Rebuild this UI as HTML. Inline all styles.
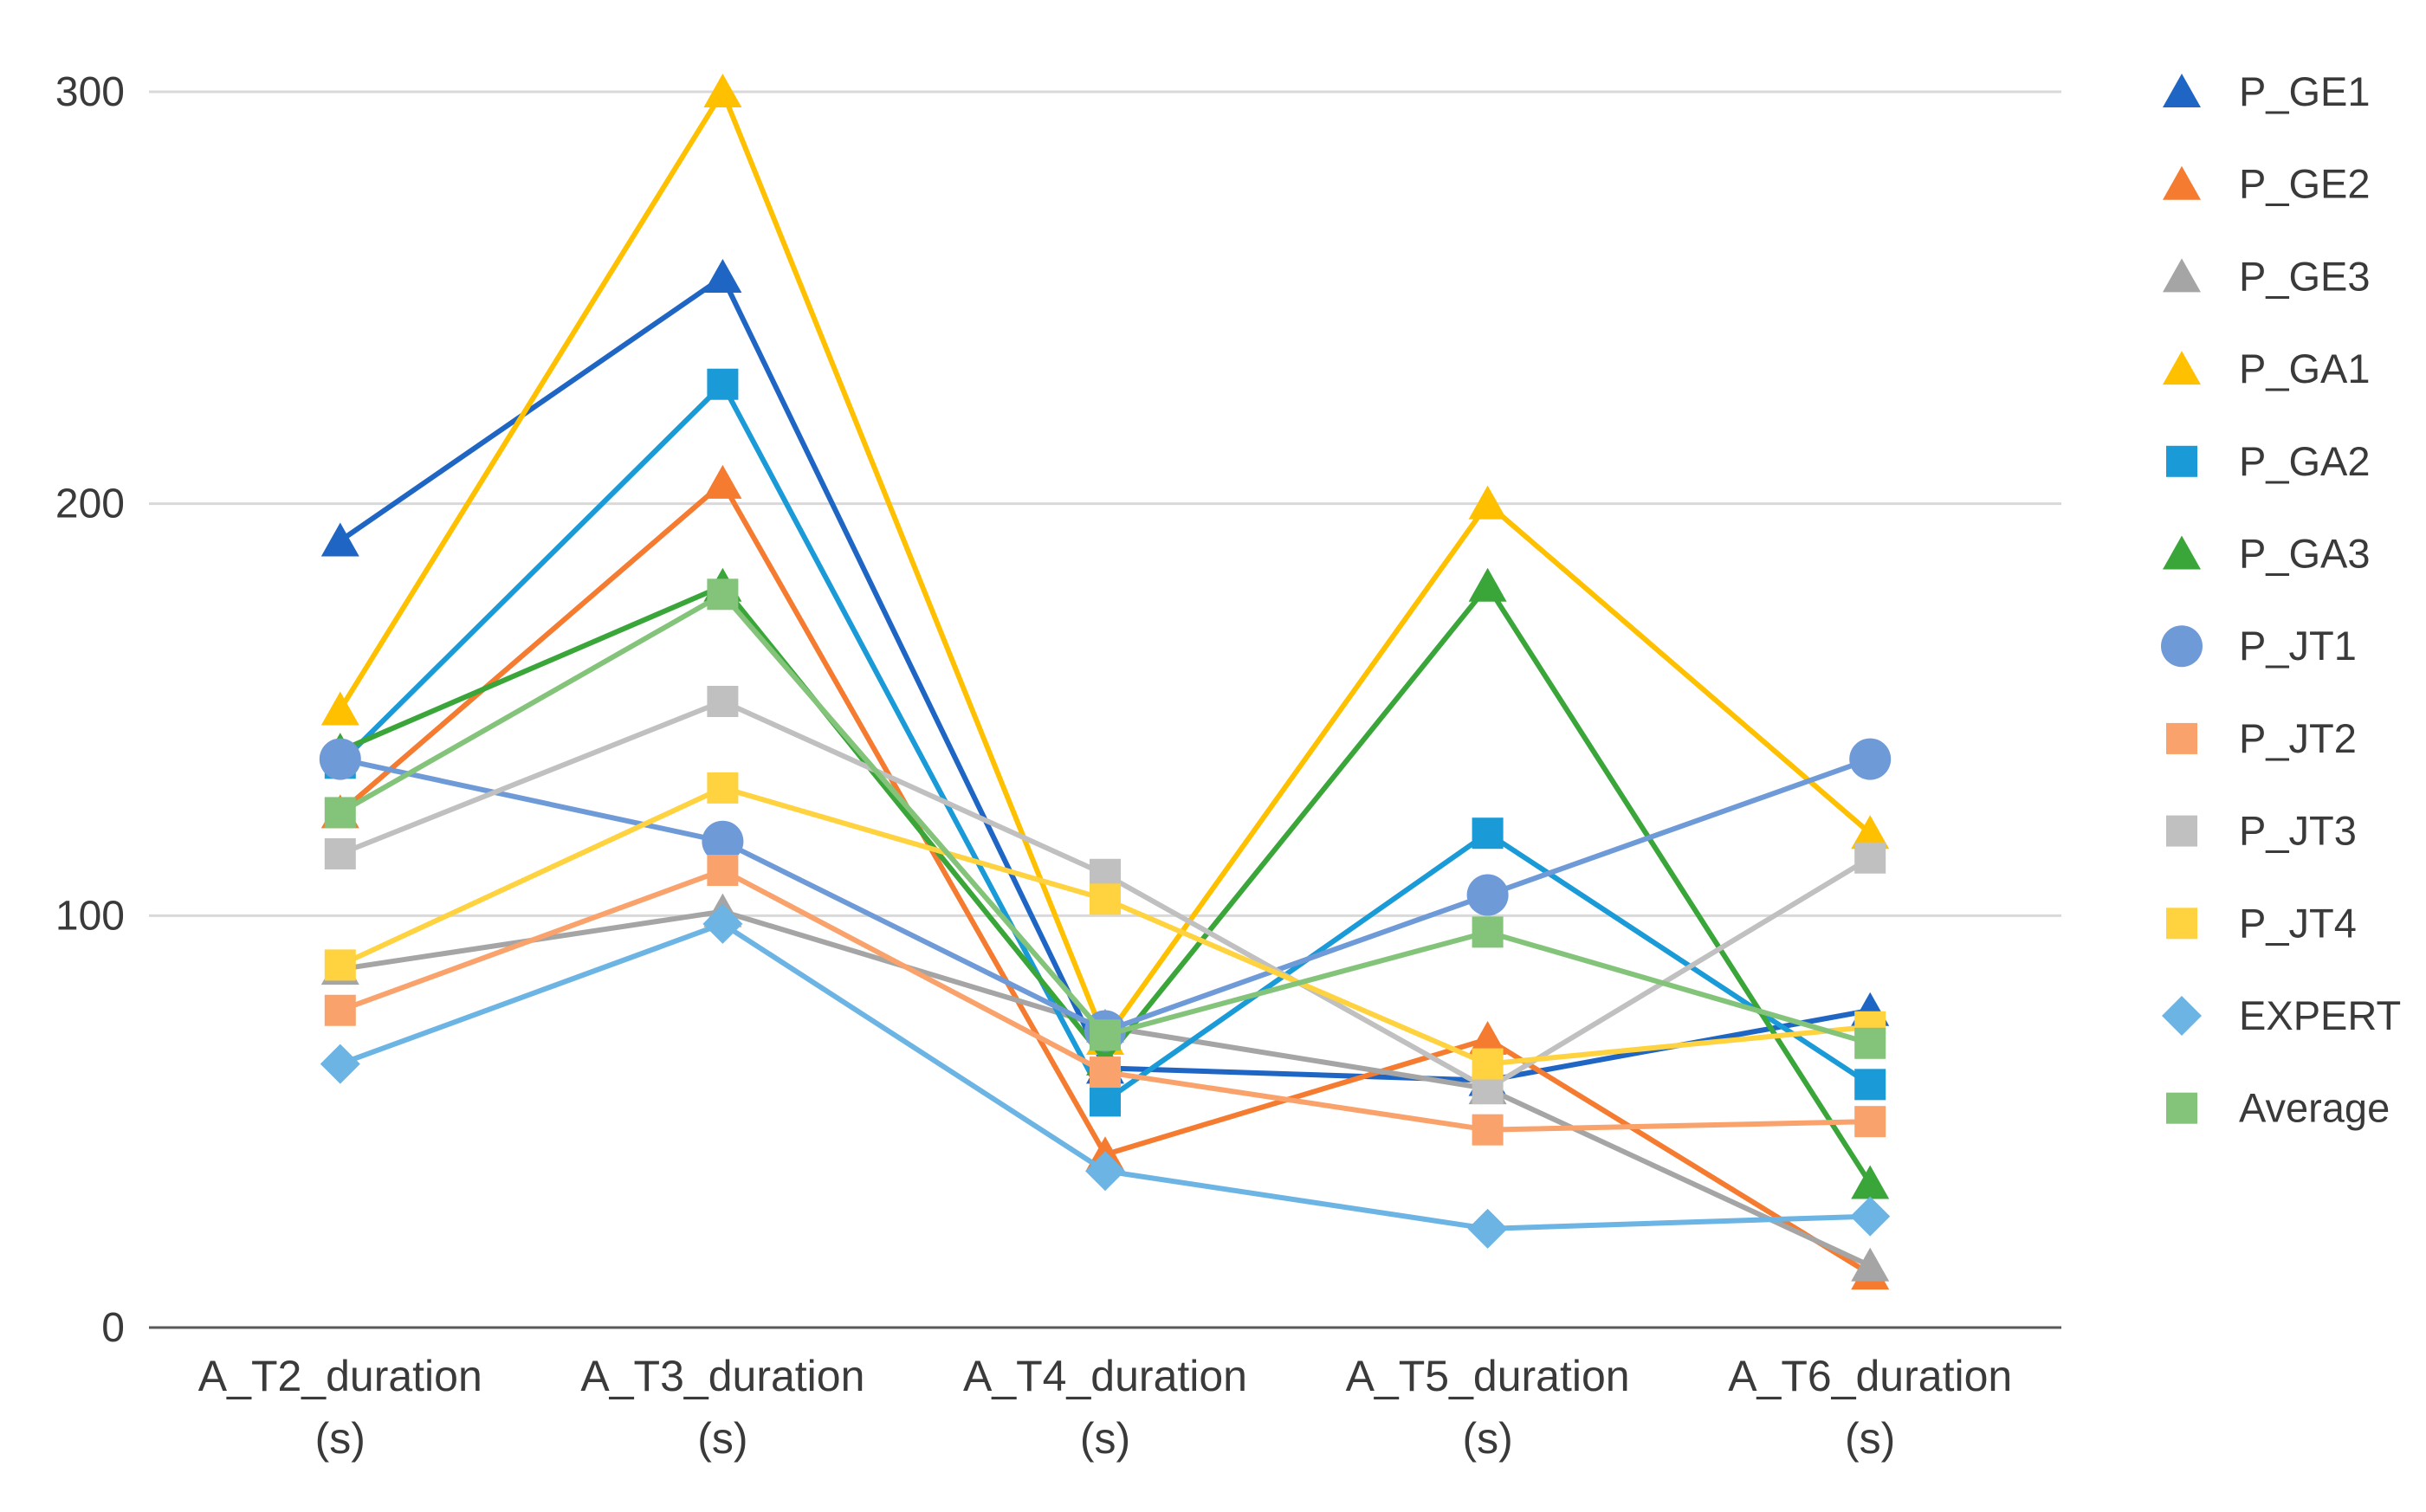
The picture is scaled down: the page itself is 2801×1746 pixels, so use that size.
<!DOCTYPE html>
<html><head><meta charset="utf-8"><style>
html,body{margin:0;padding:0;background:#fff;}
svg{display:block;}
text{font-family:"Liberation Sans",sans-serif;fill:#3a3a3a;}
</style></head><body>
<svg id="chart" width="2801" height="1746" viewBox="0 0 2801 1746" xmlns="http://www.w3.org/2000/svg">
<g id="grid"></g>
<g id="yticks"></g>
<g id="xlabels"></g>
<g id="series"></g>
<g id="legend"></g>
</svg>
<script>
const categories = ["A_T2_duration", "A_T3_duration", "A_T4_duration", "A_T5_duration", "A_T6_duration"];
const yTicks = [0, 100, 200, 300];
const seriesNames = ["P_GE1","P_GE2","P_GE3","P_GA1","P_GA2","P_GA3","P_JT1","P_JT2","P_JT3","P_JT4","EXPERT","Average"];
const vGE1 = [191, 255, 63, 60, 77];
const vGE2 = [125, 205, 42, 70, 13];
const vGE3 = [87, 101, 73, 58, 15];
const vGA1 = [150, 300, 70, 200, 120];
const vGA2 = [137, 229, 55, 120, 59];
const vGA3 = [140, 180, 65, 180, 35];
const vJT1 = [138, 118, 72, 105, 138];
const vJT2 = [77, 111, 62, 48, 50];
const vJT3 = [115, 152, 110, 58, 114];
const vJT4 = [88, 131, 104, 64, 73];
const vEXP = [64, 98, 38, 24, 27];
const vAVG = [125, 178, 71, 96, 69];
const seriesValues = [vGE1,vGE2,vGE3,vGA1,vGA2,vGA3,vJT1,vJT2,vJT3,vJT4,vEXP,vAVG];
const colors = ["#1f66c4","#f47b30","#a5a5a5","#ffc000","#1a9ad6","#3aa63a","#6f9ad8","#f9a26c","#c0c0c0","#ffd23f","#6cb4e4","#84c47a"];
const markers = ["tri","tri","tri","tri","sq","tri","circ","sq","sq","sq","dia","sq"];

const NS = "http://www.w3.org/2000/svg";
const plotL = 172, plotR = 2380, y0 = 1533, yTop = 106, yMax = 300;
const xScale = i => plotL + (plotR - plotL) / categories.length * (i + 0.5);
const yScale = v => y0 - (y0 - yTop) * v / yMax;
function mk(tag, attrs, parent){const e=document.createElementNS(NS,tag);for(const k in attrs)e.setAttribute(k,attrs[k]);parent.appendChild(e);return e;}

const grid = document.getElementById('grid');
const yt = document.getElementById('yticks');
yTicks.forEach(t=>{
  const y = yScale(t);
  const l = mk('line',{x1:plotL,x2:plotR,y1:y,y2:y,stroke:t===0?'#595959':'#d9d9d9','stroke-width':3},grid);
  
  
  const tx = mk('text',{x:144,y:y+16,'text-anchor':'end','font-size':48},yt);
  tx.textContent = t;
  
  
});
const xl = document.getElementById('xlabels');
categories.forEach((c,i)=>{
  const t1 = mk('text',{x:xScale(i),y:1606,'text-anchor':'middle','font-size':50},xl);
  t1.textContent = c;
  
  
  const t2 = mk('text',{x:xScale(i),y:1678,'text-anchor':'middle','font-size':50},xl);
  t2.textContent = '(s)';
  
  
});
function marker(type,x,y,color,parent){
  let e;
  if(type==='tri') e=mk('polygon',{points:`${x},${y-21} ${x-22},${y+18} ${x+22},${y+18}`,fill:color},parent);
  else if(type==='sq') e=mk('rect',{x:x-18,y:y-18,width:36,height:36,fill:color},parent);
  else if(type==='circ') e=mk('circle',{cx:x,cy:y,r:24,fill:color},parent);
  else e=mk('polygon',{points:`${x},${y-23} ${x+23},${y} ${x},${y+23} ${x-23},${y}`,fill:color},parent);
  return e;
}
const sg = document.getElementById('series');
seriesValues.forEach((vals,s)=>{
  const g = mk('g',{},sg);
  
  
  const pts = vals.map((v,i)=>xScale(i)+','+yScale(v)).join(' ');
  const pl = mk('polyline',{points:pts,fill:'none',stroke:colors[s],'stroke-width':6,'stroke-linejoin':'round'},g);
  
  
  vals.forEach((v,i)=>{
    const m = marker(markers[s],xScale(i),yScale(v),colors[s],g);
    
    
  });
});
const lg = document.getElementById('legend');
seriesNames.forEach((n,s)=>{
  const y = 106 + s*106.7;
  const g = mk('g',{},lg);
  
  
  marker(markers[s],2519,y,colors[s],g);
  const t = mk('text',{x:2585,y:y+16,'font-size':47},g);
  t.textContent = n;
});
</script>
</body></html>
